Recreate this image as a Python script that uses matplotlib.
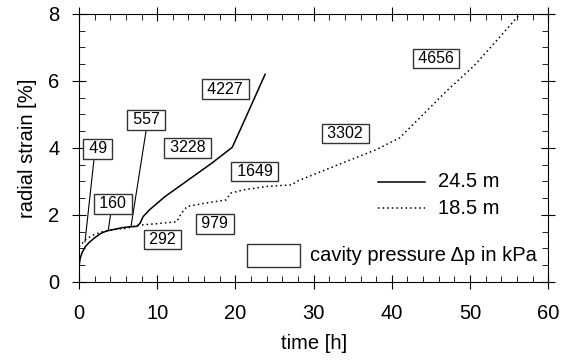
import numpy as np
import matplotlib
matplotlib.use("Agg")
import matplotlib.pyplot as plt
from matplotlib.patches import Rectangle
from matplotlib.ticker import MultipleLocator

plt.rcParams['font.family'] = ['Liberation Sans', 'DejaVu Sans']

# 24.5 m (solid)
t_a = [0.0, 0.15, 0.4, 0.8, 1.3, 2.0, 2.8, 3.5, 4.5, 5.5, 6.6, 7.4, 7.8, 8.2, 9.0, 11.0, 14.0, 17.0, 19.6, 21.5, 23.8]
s_a = [0.45, 0.7, 0.88, 1.05, 1.18, 1.32, 1.45, 1.52, 1.57, 1.62, 1.65, 1.66, 1.75, 1.95, 2.15, 2.55, 3.05, 3.55, 4.02, 5.0, 6.2]

# 18.5 m (dotted)
t_b = [0.0, 1.0, 2.0, 3.0, 4.5, 6.0, 7.8, 10.0, 12.5, 13.1, 13.8, 16.0, 18.8, 19.4, 21.0, 24.0, 27.2, 28.0, 31.0, 34.0, 38.0, 41.0, 44.0, 47.0, 50.5, 53.0, 56.4]
s_b = [1.05, 1.3, 1.42, 1.5, 1.57, 1.6, 1.7, 1.74, 1.8, 2.05, 2.25, 2.35, 2.45, 2.65, 2.75, 2.85, 2.9, 3.02, 3.3, 3.58, 3.95, 4.3, 5.0, 5.7, 6.45, 7.1, 8.0]

# cavity pressure labels: text, box centre (t, strain)
labels = ['49', '160', '557', '3228', '4227', '292', '979', '1649', '3302', '4656']
lab_t = [2.4, 4.3, 8.6, 13.9, 18.7, 10.7, 17.35, 22.5, 34.05, 45.65]
lab_s = [3.97, 2.33, 4.84, 4.0, 5.76, 1.27, 1.74, 3.3, 4.43, 6.67]
# leader lines from the box to the curve
lead_from = {'49': (1.9, 3.62), '160': (4.05, 2.03), '557': (8.57, 4.5)}
lead_to = {'49': (0.77, 1.2), '160': (3.75, 1.55), '557': (6.65, 1.65)}

fig = plt.figure(figsize=(5.69, 3.6), dpi=100)
ax = fig.add_axes([0.1388, 0.2167, 0.8247, 0.7445])

ax.plot(t_a, s_a, color='black', lw=1.1)
ax.plot(t_b, s_b, color='black', lw=1.1, ls=(0, (1, 2)))

for name in lead_from:
    x0, y0 = lead_from[name]
    x1, y1 = lead_to[name]
    ax.plot([x0, x1], [y0, y1], color='black', lw=0.8)

box = dict(boxstyle='square,pad=0.15', fc='white', ec='#333333', lw=1)
for txt, x, y in zip(labels, lab_t, lab_s):
    ax.text(x, y, '\u2009' + txt + '\u2009', ha='center', va='center', fontsize=11.5, bbox=box)

# legend drawn by hand
ax.plot([38.2, 44.2], [2.99, 2.99], color='black', lw=1.1)
ax.plot([38.2, 44.2], [2.2, 2.2], color='black', lw=1.1, ls=(0, (1, 2)))
ax.text(45.9, 2.99, '24.5 m', fontsize=14.5, va='center')
ax.text(45.9, 2.2, '18.5 m', fontsize=14.5, va='center')
ax.add_patch(Rectangle((21.5, 0.44), 6.7, 0.69, fc='white', ec='#333333', lw=1))
ax.text(29.6, 0.8, 'cavity pressure \u0394p in kPa', fontsize=14.5, va='center')

ax.set_xlim(0, 60)
ax.set_ylim(0, 8)
ax.xaxis.set_major_locator(MultipleLocator(10))
ax.xaxis.set_minor_locator(MultipleLocator(2))
ax.yaxis.set_major_locator(MultipleLocator(2))
ax.yaxis.set_minor_locator(MultipleLocator(0.5))
ax.tick_params(which='major', direction='inout', length=10, top=True, right=True, labelsize=14.5)
ax.tick_params(axis='x', which='major', pad=11)
ax.tick_params(axis='y', which='major', pad=9)
ax.tick_params(which='minor', direction='in', length=4, top=True, right=True)
ax.set_xlabel('time [h]', fontsize=14.5, labelpad=8)
ax.set_ylabel('radial strain [%]', fontsize=14.5, labelpad=8)

fig.savefig('out.png', dpi=100)
